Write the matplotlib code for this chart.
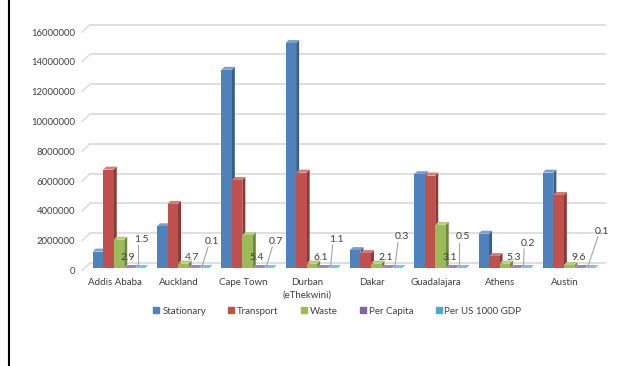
import numpy as np
import matplotlib
matplotlib.use('Agg')
import matplotlib.pyplot as plt
from matplotlib.patches import Polygon
from matplotlib.lines import Line2D

# --- data ---
cities = ['Addis Ababa', 'Auckland', 'Cape Town', 'Durban\n(eThekwini)',
          'Dakar', 'Guadalajara', 'Athens', 'Austin']
stationary = [1.1e6, 2.8e6, 13.3e6, 15.1e6, 1.2e6, 6.3e6, 2.3e6, 6.4e6]
transport = [6.6e6, 4.3e6, 5.9e6, 6.4e6, 1.0e6, 6.2e6, 0.8e6, 4.9e6]
waste = [1.9e6, 0.3e6, 2.2e6, 0.3e6, 0.3e6, 2.9e6, 0.3e6, 0.2e6]
per_capita = [2.9, 4.7, 5.4, 6.1, 2.1, 3.1, 5.3, 9.6]
per_gdp = [1.5, 0.1, 0.7, 1.1, 0.3, 0.5, 0.2, 0.1]
series_names = ['Stationary', 'Transport', 'Waste', 'Per Capita', 'Per US 1000 GDP']
yticks = list(range(0, 16000001, 2000000))

# face colours: front, side, top
face_cols = [('#4f81bd', '#385d8a', '#7aa0d0'),
             ('#c0504d', '#8c3836', '#d27c79'),
             ('#9bbb59', '#71893f', '#b5ce80'),
             ('#8064a2', '#5c4776', '#9d86bb'),
             ('#4bacc6', '#357d91', '#7cc4d7')]

# layout (pixel based at dpi 100)
PXX = 1 / 64.3          # category units per pixel
PXY = 1e6 / 14.9        # value units per pixel
bw = 10.5 * PXX
ddx, ddy = 3 * PXX, 3 * PXY     # bar depth
gdx, gdy = 8 * PXX, 5 * PXY     # wall offset for gridlines
xmin, xmax = -0.575, 7.574
# per-category label nudges for the GDP labels (px right, px above base)
gdp_lab = [(7, 29), (13, 27), (13, 27), (9, 29), (10, 31), (7, 31), (7.5, 25), (17, 37)]

plt.rcParams['font.family'] = ['Lato', 'DejaVu Sans']
txt_col = '#404040'

fig = plt.figure(figsize=(6.34, 3.66), dpi=100)
ax = fig.add_axes([82 / 634, 98 / 366, 524 / 634, 243 / 366])
ax.set_xlim(xmin, xmax)
ax.set_ylim(0, 243 * PXY)
ax.axis('off')

# back wall gridlines with slanted left edge
for v in yticks:
    ax.plot([xmin + gdx, xmax], [v + gdy, v + gdy], color='#d9d9d9', lw=1.2,
            zorder=1, clip_on=False, solid_capstyle='butt')
    ax.plot([xmin, xmin + gdx], [v - 2.5 * PXY, v + gdy], color='#d9d9d9', lw=1.0,
            zorder=1, clip_on=False)
    ax.text(xmin - 7 * PXX, v - 3.5 * PXY, str(v), ha='right', va='center',
            fontsize=6.8, color=txt_col)


def bar3d(x0, h, cols):
    fc, sc, tc = cols
    ax.add_patch(Polygon([(x0 + bw, 0), (x0 + bw + ddx, ddy), (x0 + bw + ddx, h + ddy), (x0 + bw, h)],
                         closed=True, fc=sc, ec='none', zorder=3, clip_on=False))
    ax.add_patch(Polygon([(x0, h), (x0 + ddx, h + ddy), (x0 + bw + ddx, h + ddy), (x0 + bw, h)],
                         closed=True, fc=tc, ec='none', zorder=3, clip_on=False))
    ax.add_patch(Polygon([(x0, 0), (x0, h), (x0 + bw, h), (x0 + bw, 0)],
                         closed=True, fc=fc, ec='none', zorder=3, clip_on=False))


series = [stationary, transport, waste, per_capita, per_gdp]
x = np.arange(len(cities))
for i in x:
    for k, vals in enumerate(series):
        x0 = i + (k - 2.5) * bw
        bar3d(x0, vals[i], face_cols[k])
    # per capita label
    xc = i + 0.5 * bw
    ax.text(xc + 4 * PXX, 11 * PXY, f'{per_capita[i]}', ha='center', va='center',
            fontsize=7.5, color=txt_col, zorder=5)
    # per GDP label with leader line
    xg = i + 1.5 * bw
    lx, ly = gdp_lab[i]
    ax.text(xg + lx * PXX, ly * PXY, f'{per_gdp[i]}', ha='center', va='center',
            fontsize=7.5, color=txt_col, zorder=5)
    ax.plot([xg + (lx - 4) * PXX, xg + 3 * PXX], [(ly - 6) * PXY, 1.5 * PXY],
            color='#a6a6a6', lw=0.8, zorder=4, clip_on=False)
    # category label
    ax.text(i - 0.07, -10 * PXY, cities[i], ha='center', va='top',
            fontsize=7, color=txt_col, linespacing=1.5)

handles = [Line2D([], [], marker='s', ls='none', markersize=4.5,
                  markerfacecolor=c[0], markeredgecolor=c[0]) for c in face_cols]
fig.legend(handles, series_names, loc='center', bbox_to_anchor=(337 / 634, 1 - 311 / 366),
           ncol=5, frameon=False, fontsize=7, handlelength=0.8, handletextpad=0.2,
           columnspacing=2.2, labelcolor=txt_col)

# left border of the original figure frame
fig.add_artist(Line2D([9 / 634, 9 / 634], [0, 1], color='black', lw=1.5))

fig.savefig('out.png', dpi=100)
